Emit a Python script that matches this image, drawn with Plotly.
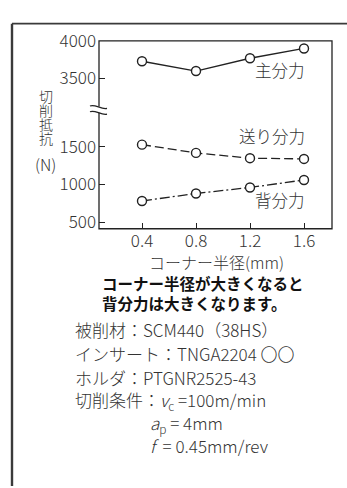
import plotly.graph_objects as go

# Corner radius (mm) and cutting-force components (N)
radius = [0.4, 0.8, 1.2, 1.6]
main_force = [3730, 3600, 3770, 3900]    # 主分力
feed_force = [1530, 1420, 1350, 1340]    # 送り分力
back_force = [780, 880, 960, 1060]       # 背分力

x_ticks = [0.4, 0.8, 1.2, 1.6]
upper_ticks = [3500, 4000]
lower_ticks = [500, 1000, 1500]

W, H = 347, 488
FONT = "Noto Sans CJK JP"
TXT = "#333333"
INK = "#222222"


def px(x):
    return x / W


def py(y):
    return 1 - y / H


# plot box in pixels
L, R, T, B, BRK = 99, 332, 28, 223, 98

fig = go.Figure()

line_style = dict(color=INK, width=1.3)
marker_style = dict(symbol="circle", size=9, color="white",
                    line=dict(color=INK, width=1.4))

fig.add_trace(go.Scatter(x=radius, y=main_force, mode="lines+markers",
                         line=line_style, marker=marker_style,
                         xaxis="x", yaxis="y", name="主分力"))
fig.add_trace(go.Scatter(x=radius, y=feed_force, mode="lines+markers",
                         line=dict(color=INK, width=1.3, dash="9px,4px"),
                         marker=marker_style, xaxis="x", yaxis="y2",
                         name="送り分力"))
fig.add_trace(go.Scatter(x=radius, y=back_force, mode="lines+markers",
                         line=dict(color=INK, width=1.3, dash="10px,3px,2px,3px"),
                         marker=marker_style, xaxis="x", yaxis="y2",
                         name="背分力"))

tick_font = dict(family=FONT, size=17, color=TXT, weight=300)
px_per_n = 39 / 500.0

fig.update_layout(
    width=W, height=H,
    margin=dict(l=0, r=0, t=0, b=0),
    paper_bgcolor="white", plot_bgcolor="white",
    showlegend=False,
    xaxis=dict(domain=[px(L), px(R)], anchor="y2",
               range=[0.4 - (142 - L) / 135.0, 1.6 + (R - 304) / 135.0],
               tickvals=x_ticks, ticktext=[f"{v:.1f}" for v in x_ticks],
               ticks="inside", ticklen=6, tickcolor=INK, tickwidth=1.2,
               showgrid=False, zeroline=False, showline=False,
               tickfont=tick_font),
    yaxis=dict(domain=[py(BRK), py(T)], anchor="x",
               range=[4000 - (BRK - T) / px_per_n, 4000],
               tickvals=upper_ticks, ticks="inside", ticklen=6,
               tickcolor=INK, tickwidth=1.2, showgrid=False,
               zeroline=False, showline=False, tickfont=tick_font,
               ticklabelstandoff=2),
    yaxis2=dict(domain=[py(B), py(BRK)], anchor="x",
                range=[500 - (B - 216) / px_per_n, 1500 + (138 - BRK) / px_per_n],
                tickvals=lower_ticks, ticks="inside", ticklen=6,
                tickcolor=INK, tickwidth=1.2, showgrid=False,
                zeroline=False, showline=False, tickfont=tick_font,
                ticklabelstandoff=2),
)

shapes = []
# outer page frame (top and left rules)
shapes.append(dict(type="line", xref="paper", yref="paper",
                   x0=px(12), x1=px(W + 2), y0=py(10), y1=py(10),
                   line=dict(color="#3a3a3a", width=1.6)))
shapes.append(dict(type="line", xref="paper", yref="paper",
                   x0=px(12), x1=px(12), y0=py(10), y1=py(H + 2),
                   line=dict(color="#3a3a3a", width=2.4)))
# plot frame
shapes.append(dict(type="rect", xref="paper", yref="paper",
                   x0=px(L), x1=px(R), y0=py(B), y1=py(T),
                   line=dict(color=INK, width=1.3), layer="above"))
# axis break: gap in the left rule plus two wavy strokes
shapes.append(dict(type="rect", xref="paper", yref="paper",
                   x0=px(L - 2), x1=px(L + 2), y0=py(102.5), y1=py(96),
                   fillcolor="white", line=dict(width=0), layer="above"))


def wave(y0):
    pts = [(90, y0), (95, y0 - 2.5), (101, y0 + 4), (107, y0 + 2.5)]
    return ("M{:.5f},{:.5f} C{:.5f},{:.5f} {:.5f},{:.5f} {:.5f},{:.5f}"
            .format(px(pts[0][0]), py(pts[0][1]), px(pts[1][0]), py(pts[1][1]),
                    px(pts[2][0]), py(pts[2][1]), px(pts[3][0]), py(pts[3][1])))


for yy in (95.5, 101.5):
    shapes.append(dict(type="path", xref="paper", yref="paper", path=wave(yy),
                       line=dict(color=INK, width=1.3), layer="above"))
fig.update_layout(shapes=shapes)

ann = []


def text(x, y, s, size=16, xanchor="center", weight=300, color=TXT):
    ann.append(dict(x=px(x), y=py(y), xref="paper", yref="paper", text=s,
                    showarrow=False, xanchor=xanchor, yanchor="middle",
                    font=dict(family=FONT, size=size, color=color, weight=weight)))


# series labels
text(280, 58, "主分力", size=16.5)
text(272, 127, "送り分力", size=16.5)
text(280, 193, "背分力", size=16.5)

# vertical axis title, one character per row (set solid, as in print)
for i, ch in enumerate("切削抵抗"):
    text(45.5, 85.5 + i * 14.3, ch, size=14)
text(45.5, 156, "(N)", size=16)

# x-axis title
text(216, 258, "コーナー半径(mm)", size=16)

# caption
ann.append(dict(x=px(100), y=py(289.5), xref="paper", yref="paper",
                text="コーナー半径が大きくなると<br>背分力は大きくなります。",
                showarrow=False, xanchor="left", yanchor="middle", align="left",
                font=dict(family=FONT, size=15.5, color="#111111", weight=700)))

# cutting conditions
text(73, 328, "被削材：SCM440（38HS）", size=17, xanchor="left")
text(73, 353, "インサート：TNGA2204 〇〇", size=17, xanchor="left")
text(73, 377, "ホルダ：PTGNR2525-43", size=17, xanchor="left")
text(73, 401, "切削条件：<i>v</i><sub>c</sub> =100m/min", size=17, xanchor="left")
text(148, 425, "<i>a</i><sub>p</sub> = 4mm", size=17, xanchor="left")
text(148, 448, "<i>f</i>  = 0.45mm/rev", size=17, xanchor="left")

fig.update_layout(annotations=ann)

fig.write_html("out.html")
